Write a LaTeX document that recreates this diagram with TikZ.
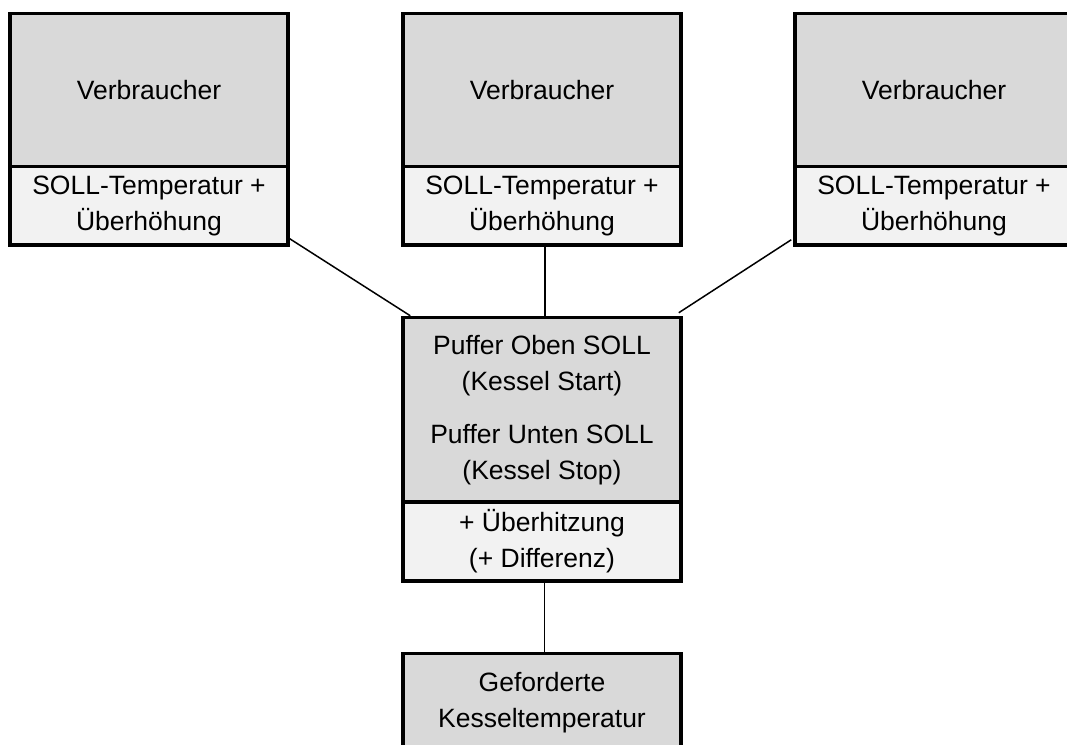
\documentclass[tikz,border=0pt]{standalone}
\usepackage{fontspec}
\setmainfont{Liberation Sans}
\usetikzlibrary{calc}
\definecolor{darkfill}{RGB}{217,217,217}
\definecolor{lightfill}{RGB}{242,242,242}
\begin{document}
\begin{tikzpicture}[x=1pt,y=-1pt,
  box/.style={draw=black, line width=3.5pt, inner sep=0pt, align=center,
    font=\fontsize{26.5}{36}\selectfont, minimum width=278pt},
  upper/.style={box, fill=darkfill},
  lower/.style={box, fill=lightfill},
  conn/.style={draw=black, line width=1.5pt}]
\useasboundingbox (0,0) rectangle (1067,744);
\fill[white] (0,0) rectangle (1067,744);
% connectors (drawn first, boxes on top)
% top boxes
\node[lower, minimum height=78.5pt] (lowL) at (149,205.75) {SOLL-Temperatur +\\Überhöhung};
\node[upper, minimum height=153pt] (upL) at (149,90) {Verbraucher};
\node[lower, minimum height=78.5pt] (lowC) at (542,205.75) {SOLL-Temperatur +\\Überhöhung};
\node[upper, minimum height=153pt] (upC) at (542,90) {Verbraucher};
\node[lower, minimum height=78.5pt] (lowR) at (934,205.75) {SOLL-Temperatur +\\Überhöhung};
\node[upper, minimum height=153pt] (upR) at (934,90) {Verbraucher};
% middle box
\node[lower, minimum height=79pt] (lowM) at (542,541.5) {+ Überhitzung\\(+ Differenz)};
\node[upper, minimum height=184.5pt] (upM) at (542,409.75) {Puffer Oben SOLL\\(Kessel Start)\\[17pt]Puffer Unten SOLL\\(Kessel Stop)};
% bottom box
\node[upper, minimum height=98.5pt] (bot) at (542,702.75) {Geforderte\\Kesseltemperatur};
% connectors
\draw[conn] ($(lowL.south east)+(0,-8)$) -- ($(upM.north west)+(9,0)$);
\draw[conn] ($(lowC.south)+(3,0)$) -- ($(upM.north)+(3,0)$);
\draw[conn] ($(lowR.south west)+(-2,-7)$) -- ($(upM.north east)+(-4,-3)$);
\draw[conn] ($(lowM.south)+(2.5,0)$) -- ($(bot.north)+(2.5,0)$);
\end{tikzpicture}
\end{document}
